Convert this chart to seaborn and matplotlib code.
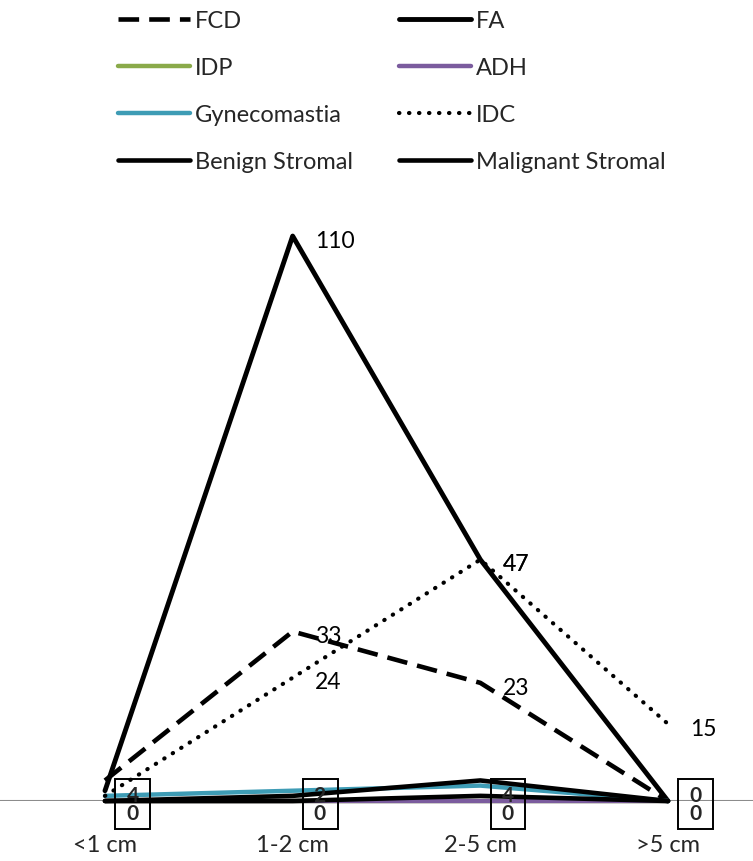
import matplotlib
matplotlib.use("Agg")
import matplotlib.pyplot as plt
import seaborn as sns
import numpy as np
import pandas as pd

sns.set_theme(style="white")
plt.rcParams['font.family'] = ['Lato', 'DejaVu Sans']

categories = ["<1 cm", "1-2 cm", "2-5 cm", ">5 cm"]
series_names = ["FCD", "FA", "IDP", "ADH", "Gynecomastia", "IDC",
                "Benign Stromal", "Malignant Stromal"]
fcd = [4, 33, 23, 0]
fa = [2, 110, 47, 0]
idp = [0, 0, 0, 0]
adh = [0, 0, 0, 0]
gyneco = [1, 2, 3, 0]
idc = [1, 24, 47, 15]
benign = [0, 1, 4, 0]
malignant = [0, 0, 1, 0]
values = [fcd, fa, idp, adh, gyneco, idc, benign, malignant]

colors = ["black", "black", "#8AAA4A", "#7B5C9E", "#3E9CB5", "black", "black", "black"]
styles = [(0, (4.5, 2.2)), "-", "-", "-", "-", (0, (0.1, 2.3)), "-", "-"]
widths = [3.3, 3.5, 3.2, 3.2, 3.2, 3.0, 3.3, 3.3]
caps = ["butt", "round", "round", "round", "round", "round", "round", "round"]

W, H = 753, 862
fig = plt.figure(figsize=(W / 100, H / 100), dpi=100)
px_per_unit = 5.136
base_px = 802
ymax = 115
ax_bottom = (H - base_px) / H
ax_height = ymax * px_per_unit / H
ax = fig.add_axes([0, ax_bottom, 1, ax_height])

x = np.arange(len(categories))
draw_order = [2, 3, 4, 7, 6, 5, 0, 1]
ax.axhline(0, color="#8c8c8c", lw=1.5, zorder=1)
for i in draw_order:
    df = pd.DataFrame({"x": x, "y": values[i]})
    sns.lineplot(data=df, x="x", y="y", ax=ax, color=colors[i], lw=widths[i],
                 linestyle=styles[i], label=series_names[i], legend=False,
                 zorder=3 + i)
    ln = ax.lines[-1]
    ln.set_solid_capstyle(caps[i])
    ln.set_dash_capstyle(caps[i])
    ln.set_clip_on(False)

# data labels for large values
for i, vals in enumerate(values):
    for xi, v in zip(x, vals):
        if v >= 10:
            ax.annotate(str(v), (xi, v), xytext=(16, -3), textcoords="offset points",
                        ha="left", va="center", fontsize=16.5, color="black", zorder=20)

# boxed labels for small values
for xi in x:
    small = [vals[xi] for vals in values if vals[xi] < 10]
    txt = f" {max(small)} \n {min(small)} "
    ax.annotate(txt, (xi, 0), xytext=(20, -2), textcoords="offset points",
                ha="center", va="center", fontsize=15, linespacing=0.85,
                fontweight="bold", zorder=20,
                bbox=dict(boxstyle="square,pad=0.3", fc="none", ec="black", lw=1.4))

ax.set_xlim(-105 / 187.7, 3 + (W - 668) / 187.7)
ax.set_ylim(0, ymax)
ax.set_xticks(x)
ax.set_xticklabels(categories, fontsize=17)
ax.tick_params(axis="x", length=0, pad=24)
ax.set_yticks([])
ax.set_xlabel("")
ax.set_ylabel("")
for s in ax.spines.values():
    s.set_visible(False)

handles = {l.get_label(): l for l in ax.lines if not l.get_label().startswith("_")}
order = ["FCD", "IDP", "Gynecomastia", "Benign Stromal",
         "FA", "ADH", "IDC", "Malignant Stromal"]
leg = fig.legend([handles[n] for n in order], order, loc="upper left",
                 bbox_to_anchor=(118 / W, 1 - 11 / H), ncol=2, frameon=False,
                 fontsize=17, handlelength=3.05, handletextpad=0.2,
                 labelspacing=1.1, columnspacing=1.95,
                 borderpad=0, borderaxespad=0)

fig.savefig("out.png", dpi=100)
